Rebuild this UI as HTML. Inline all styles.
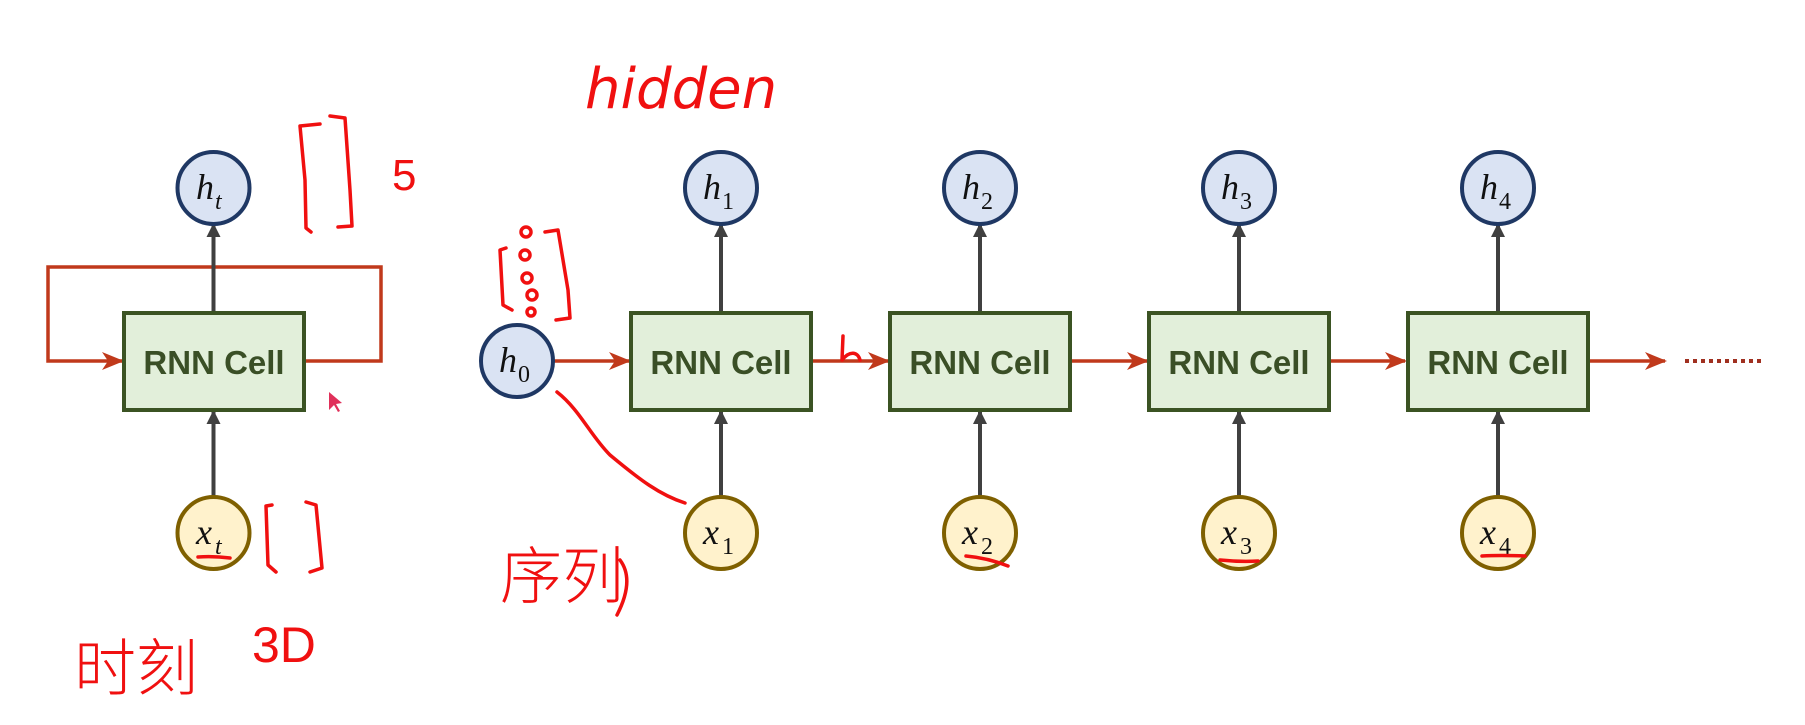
<!DOCTYPE html>
<html><head><meta charset="utf-8"><style>
html,body{margin:0;padding:0;background:#fff;}
svg{display:block;}
.cell{fill:#e2efda;stroke:#3b5323;stroke-width:4;}
.ct{font-family:"Liberation Sans",sans-serif;font-weight:bold;font-size:33px;fill:#3a4f26;}
.hc{fill:#dae3f3;stroke:#1f3864;stroke-width:4;}
.xc{fill:#fff2cc;stroke:#7f6000;stroke-width:4;}
.lb{font-family:"Liberation Serif",serif;font-style:italic;font-size:36px;fill:#111;}
.sb{font-family:"Liberation Serif",serif;font-size:24px;fill:#111;}
.dk{stroke:#404040;stroke-width:4;fill:none;}
.rd{stroke:#c0391b;stroke-width:3.5;fill:none;}
.hw{stroke:#f01010;stroke-width:3.5;fill:none;stroke-linecap:round;stroke-linejoin:round;}
.ht{font-family:"Liberation Sans","Noto Sans CJK SC",sans-serif;fill:#f01010;}
</style></head><body>
<svg width="1805" height="725" viewBox="0 0 1805 725" xmlns="http://www.w3.org/2000/svg">
<defs>
<marker id="ad" markerWidth="14" markerHeight="14" refX="12" refY="7" orient="auto" markerUnits="userSpaceOnUse"><path d="M0,0 L14,7 L0,14z" fill="#404040"/></marker>
<marker id="arr" markerWidth="22" markerHeight="18" refX="20" refY="9" orient="auto" markerUnits="userSpaceOnUse"><path d="M0,0 L22,9 L0,18 L6,9z" fill="#c0391b"/></marker>
</defs>

<path class="rd" d="M304,361 H381 V267 H48 V361 H122" marker-end="url(#arr)"/>
<line class="dk" x1="213.5" y1="313" x2="213.5" y2="225" marker-end="url(#ad)"/>
<line class="dk" x1="213.5" y1="497" x2="213.5" y2="412" marker-end="url(#ad)"/>
<rect class="cell" x="124" y="313" width="180" height="97"/>
<text class="ct" x="214" y="374" text-anchor="middle">RNN Cell</text>
<circle class="hc" cx="213.5" cy="188" r="36"/>
<text class="lb" x="196" y="199">h</text><text class="sb" x="215" y="209" font-style="italic">t</text>
<circle class="xc" cx="213.5" cy="533" r="36"/>
<text class="lb" x="196" y="544">x</text><text class="sb" x="215" y="554" font-style="italic">t</text>

<line class="rd" x1="553" y1="361" x2="629" y2="361" marker-end="url(#arr)"/>
<line class="rd" x1="811" y1="361" x2="888" y2="361" marker-end="url(#arr)"/>
<line class="rd" x1="1070" y1="361" x2="1147" y2="361" marker-end="url(#arr)"/>
<line class="rd" x1="1329" y1="361" x2="1405" y2="361" marker-end="url(#arr)"/>
<line class="rd" x1="1588" y1="361" x2="1665" y2="361" marker-end="url(#arr)"/>
<line x1="1685" y1="361" x2="1761" y2="361" stroke="#a03020" stroke-width="4" stroke-dasharray="4,4"/>

<circle class="hc" cx="517" cy="361" r="36"/>
<text class="lb" x="499" y="372">h</text><text class="sb" x="518" y="382">0</text>

<g>
<line class="dk" x1="721" y1="313" x2="721" y2="225" marker-end="url(#ad)"/>
<line class="dk" x1="721" y1="497" x2="721" y2="412" marker-end="url(#ad)"/>
<rect class="cell" x="631" y="313" width="180" height="97"/>
<text class="ct" x="721" y="374" text-anchor="middle">RNN Cell</text>
<circle class="hc" cx="721" cy="188" r="36"/>
<text class="lb" x="703" y="199">h</text><text class="sb" x="722" y="209">1</text>
<circle class="xc" cx="721" cy="533" r="36"/>
<text class="lb" x="703" y="544">x</text><text class="sb" x="722" y="554">1</text>
</g>
<g>
<line class="dk" x1="980" y1="313" x2="980" y2="225" marker-end="url(#ad)"/>
<line class="dk" x1="980" y1="497" x2="980" y2="412" marker-end="url(#ad)"/>
<rect class="cell" x="890" y="313" width="180" height="97"/>
<text class="ct" x="980" y="374" text-anchor="middle">RNN Cell</text>
<circle class="hc" cx="980" cy="188" r="36"/>
<text class="lb" x="962" y="199">h</text><text class="sb" x="981" y="209">2</text>
<circle class="xc" cx="980" cy="533" r="36"/>
<text class="lb" x="962" y="544">x</text><text class="sb" x="981" y="554">2</text>
</g>
<g>
<line class="dk" x1="1239" y1="313" x2="1239" y2="225" marker-end="url(#ad)"/>
<line class="dk" x1="1239" y1="497" x2="1239" y2="412" marker-end="url(#ad)"/>
<rect class="cell" x="1149" y="313" width="180" height="97"/>
<text class="ct" x="1239" y="374" text-anchor="middle">RNN Cell</text>
<circle class="hc" cx="1239" cy="188" r="36"/>
<text class="lb" x="1221" y="199">h</text><text class="sb" x="1240" y="209">3</text>
<circle class="xc" cx="1239" cy="533" r="36"/>
<text class="lb" x="1221" y="544">x</text><text class="sb" x="1240" y="554">3</text>
</g>
<g>
<line class="dk" x1="1498" y1="313" x2="1498" y2="225" marker-end="url(#ad)"/>
<line class="dk" x1="1498" y1="497" x2="1498" y2="412" marker-end="url(#ad)"/>
<rect class="cell" x="1408" y="313" width="180" height="97"/>
<text class="ct" x="1498" y="374" text-anchor="middle">RNN Cell</text>
<circle class="hc" cx="1498" cy="188" r="36"/>
<text class="lb" x="1480" y="199">h</text><text class="sb" x="1499" y="209">4</text>
<circle class="xc" cx="1498" cy="533" r="36"/>
<text class="lb" x="1480" y="544">x</text><text class="sb" x="1499" y="554">4</text>
</g>

<text class="ht" x="585" y="108" font-size="56" font-style="italic" font-weight="300" style="font-family:'DejaVu Sans',sans-serif;font-weight:200">hidden</text>
<path class="hw" d="M320,124 L300,126 L305,180 L306,228 L311,232"/>
<path class="hw" d="M330,116 L345,118 L350,190 L352,226 L338,227"/>
<text class="ht" x="392" y="190" font-size="44">5</text>
<path class="hw" d="M506,248 L500,250 L503,305 L512,310"/>
<path class="hw" d="M545,232 L558,230 L568,290 L570,318 L556,320"/>
<circle class="hw" cx="526" cy="232" r="5" stroke-width="2.5"/>
<circle class="hw" cx="525" cy="255" r="5" stroke-width="2.5"/>
<circle class="hw" cx="527" cy="278" r="5" stroke-width="2.5"/>
<circle class="hw" cx="532" cy="295" r="5" stroke-width="2.5"/>
<circle class="hw" cx="531" cy="312" r="4" stroke-width="2.5"/>
<path class="hw" d="M557,392 C580,410 590,435 610,455 C640,480 660,495 685,503"/>
<path class="hw" d="M843,336 L842,360 C850,350 858,352 860,360"/>
<path class="hw" d="M272,505 L266,506 L268,565 L276,572"/>
<path class="hw" d="M306,502 L316,505 L322,568 L310,572"/>
<path class="hw" d="M198,557 Q214,556 230,558"/>
<path class="hw" d="M966,556 Q988,558 1008,566"/>
<path class="hw" d="M1220,560 Q1240,562 1258,561"/>
<path class="hw" d="M1482,556 Q1500,555 1525,556"/>
<text class="ht" x="500" y="598" font-size="62" font-weight="200">序列</text>
<path class="hw" d="M620,560 Q635,580 617,615"/>
<text class="ht" x="74" y="690" font-size="62" font-weight="200">时刻</text>
<text class="ht" x="252" y="662" font-size="50" font-weight="300">3D</text>
<path d="M329,392 L329,410 L334,405 L338,412 L340,411 L336,404 L342,403z" fill="#e0305a"/>
</svg>
</body></html>
